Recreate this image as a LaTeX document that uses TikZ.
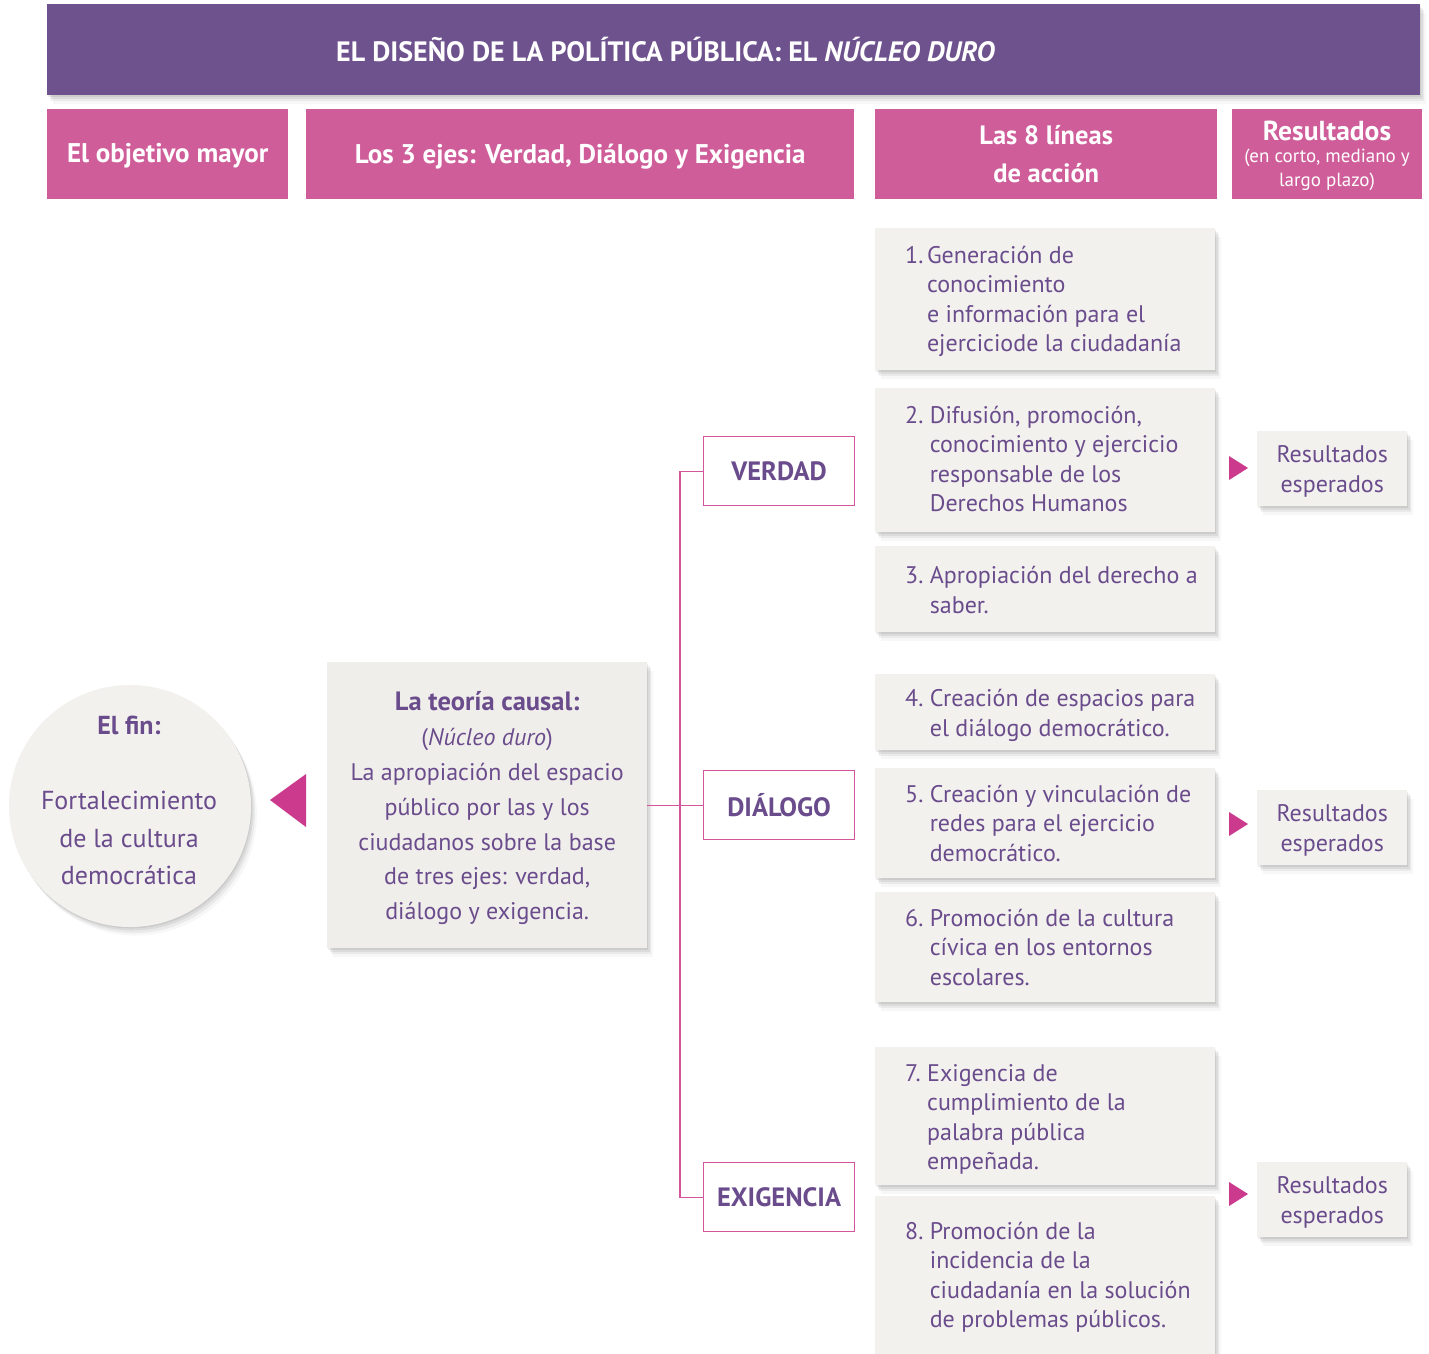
\documentclass[tikz,border=0pt]{standalone}
\usepackage{fontspec}
\setmainfont{PT Sans}
\usetikzlibrary{shadows}
\definecolor{titlep}{HTML}{6E528D}
\definecolor{hdrpink}{HTML}{CF5D99}
\definecolor{txtp}{HTML}{6A4C8C}
\definecolor{linepink}{HTML}{D4559C}
\definecolor{tripink}{HTML}{CB3A8C}
\definecolor{boxgray}{HTML}{F2F1EE}
\definecolor{theorygray}{HTML}{F0EEEB}
\tikzset{
  softshadow/.style={
    drop shadow={shadow xshift=1pt,shadow yshift=-1.5pt,opacity=.07,fill=black},
    drop shadow={shadow xshift=2.5pt,shadow yshift=-3.5pt,opacity=.06,fill=black},
    drop shadow={shadow xshift=4pt,shadow yshift=-6pt,opacity=.05,fill=black},
    drop shadow={shadow xshift=6pt,shadow yshift=-8.5pt,opacity=.03,fill=black}},
  hdr/.style={fill=hdrpink, draw=none, text=white, font=\bfseries\fontsize{27}{38}\selectfont, align=center, inner sep=0pt, anchor=north west},
  gbox/.style={fill=boxgray, draw=none, inner sep=0pt, anchor=north west, softshadow},
  itemtxt/.style={anchor=west, align=left, text=txtp, font=\fontsize{24}{29.5}\selectfont, inner sep=0pt},
  resbox/.style={fill=boxgray, draw=none, anchor=north west, inner sep=0pt, minimum width=150pt, minimum height=75pt, softshadow},
  restxt/.style={text=txtp, align=center, font=\fontsize{24}{30}\selectfont, inner sep=0pt},
  axisbox/.style={draw=linepink, line width=1.2pt, fill=white, text=txtp, font=\bfseries\fontsize{26.5}{28}\selectfont, inner sep=0pt, anchor=north west, minimum width=151pt, minimum height=69pt},
  conn/.style={draw=linepink, line width=1.2pt},
  tri/.style={fill=tripink, draw=none},
}
\begin{document}
\begin{tikzpicture}[x=1pt,y=-1pt]
\useasboundingbox[fill=white] (0,0) rectangle (1429,1353);
% title
\node[fill=titlep, anchor=north west, inner sep=0pt, minimum width=1373pt, minimum height=91pt, softshadow] (title) at (47,4) {};
\node[anchor=west, text=white, font=\bfseries\fontsize{28}{30}\selectfont, inner sep=0pt] (titletxt) at (336,50) {EL DISEÑO DE LA POLÍTICA PÚBLICA: EL \textit{NÚCLEO DURO}};
% headers
\node[hdr, minimum width=241pt, minimum height=90pt] (h1) at (47,109) {};
\node[text=white, font=\bfseries\fontsize{27}{30}\selectfont, inner sep=0pt] (h1t) at ([yshift=-2pt]h1.center) {El objetivo mayor};
\node[hdr, minimum width=548pt, minimum height=90pt] (h2) at (306,109) {};
\node[text=white, font=\bfseries\fontsize{27}{30}\selectfont, inner sep=0pt] (h2t) at ([yshift=-2pt]h2.center) {Los 3 ejes: Verdad, Diálogo y Exigencia};
\node[hdr, minimum width=342pt, minimum height=90pt, font=\bfseries\fontsize{26.5}{38}\selectfont] (h3) at (875,109) {Las 8 líneas\\de acción};
\node[hdr, minimum width=190pt, minimum height=90pt] (h4) at (1232,109) {};
\node[text=white, font=\bfseries\fontsize{27.5}{30}\selectfont, inner sep=0pt] (h4a) at (1327,131) {Resultados};
\node[text=white, align=center, font=\fontsize{19}{23.5}\selectfont, inner sep=0pt] (h4b) at (1327,170) {(en corto, mediano y\\largo plazo)};
% line boxes
\node[gbox, minimum width=340pt, minimum height=142pt] (l1) at (875,228) {};
\node[gbox, minimum width=340pt, minimum height=144pt] (l2) at (875,388) {};
\node[gbox, minimum width=340pt, minimum height=86pt] (l3) at (875,546) {};
\node[gbox, minimum width=340pt, minimum height=76pt] (l4) at (875,674) {};
\node[gbox, minimum width=340pt, minimum height=110pt] (l5) at (875,768) {};
\node[gbox, minimum width=340pt, minimum height=110pt] (l6) at (875,892) {};
\node[gbox, minimum width=340pt, minimum height=138pt] (l7) at (875,1047) {};
\node[gbox, minimum width=340pt, minimum height=160pt] (l8) at (875,1196) {};
\node[itemtxt] (t1) at ([xshift=30pt,yshift=-2pt]l1.west) {1.\hspace{0.15em}Generación de\\\hphantom{1.\hspace{0.15em}}conocimiento\\\hphantom{1.\hspace{0.15em}}e información para el\\\hphantom{1.\hspace{0.15em}}ejerciciode la ciudadanía};
\node[itemtxt] (t2) at ([xshift=30pt,yshift=1pt]l2.west) {2.~Difusión, promoción,\\\hphantom{2.~}conocimiento y ejercicio\\\hphantom{2.~}responsable de los\\\hphantom{2.~}Derechos Humanos};
\node[itemtxt] (t3) at ([xshift=30pt,yshift=-1pt]l3.west) {3.~Apropiación del derecho a\\\hphantom{3.~}saber.};
\node[itemtxt] (t4) at ([xshift=30pt,yshift=-3pt]l4.west) {4.~Creación de espacios para\\\hphantom{4.~}el diálogo democrático.};
\node[itemtxt] (t5) at ([xshift=30pt,yshift=0pt]l5.west) {5.~Creación y vinculación de\\\hphantom{5.~}redes para el ejercicio\\\hphantom{5.~}democrático.};
\node[itemtxt] (t6) at ([xshift=30pt,yshift=0pt]l6.west) {6.~Promoción de la cultura\\\hphantom{6.~}cívica en los entornos\\\hphantom{6.~}escolares.};
\node[itemtxt] (t7) at ([xshift=30pt,yshift=-3pt]l7.west) {7.~Exigencia de\\\hphantom{7.~}cumplimiento de la\\\hphantom{7.~}palabra pública\\\hphantom{7.~}empeñada.};
\node[itemtxt] (t8) at ([xshift=30pt,yshift=-1pt]l8.west) {8.~Promoción de la\\\hphantom{8.~}incidencia de la\\\hphantom{8.~}ciudadanía en la solución\\\hphantom{8.~}de problemas públicos.};
% results
\node[resbox] (r1) at (1257,431) {};
\node[resbox] (r2) at (1257,790) {};
\node[resbox] (r3) at (1257,1162) {};
\node[restxt] (r1t) at ([yshift=-3pt]r1.center) {Resultados\\esperados};
\node[restxt] (r2t) at ([yshift=-3pt]r2.center) {Resultados\\esperados};
\node[restxt] (r3t) at ([yshift=-3pt]r3.center) {Resultados\\esperados};
\fill[tri] (1229,456) -- (1248,468) -- (1229,480) -- cycle;
\fill[tri] (1229,812) -- (1248,824) -- (1229,836) -- cycle;
\fill[tri] (1229,1182) -- (1248,1194) -- (1229,1206) -- cycle;
% axis boxes
\node[axisbox] (ver) at (703,436) {VERDAD};
\node[axisbox] (dia) at (703,770) {DIÁLOGO};
\node[axisbox] (exi) at (703,1162) {EXIGENCIA};
% theory box
\node[fill=theorygray, anchor=north west, inner sep=0pt, minimum width=320pt, minimum height=286pt, softshadow] (teo) at (327,662) {};
\node[text=txtp, align=center, font=\fontsize{24}{34.8}\selectfont, inner sep=0pt] (teotxt) at ([yshift=-3pt]teo.center) {{\bfseries\fontsize{26.5}{34.8}\selectfont La teoría causal:}\\(\textit{Núcleo duro})\\La apropiación del espacio\\público por las y los\\ciudadanos sobre la base\\de tres ejes: verdad,\\diálogo y exigencia.};
% circle
\node[circle, fill=boxgray, minimum size=242pt, inner sep=0pt, softshadow] (fin) at (130,806) {};
\node[text=txtp, align=center, font=\fontsize{26}{37.5}\selectfont, inner sep=0pt, anchor=north] (fintxt) at (129,716) {{\bfseries El fin:}\\[37.5pt]Fortalecimiento\\de la cultura\\democrática};
\fill[tri] (306,774) -- (270,800) -- (306,827) -- cycle;
% connectors
\coordinate (spine) at (680,803);
\draw[conn] (ver.west) -| (spine) |- (exi.west);
\draw[conn] (teo.east |- dia.west) -- (dia.west);
\end{tikzpicture}
\end{document}
